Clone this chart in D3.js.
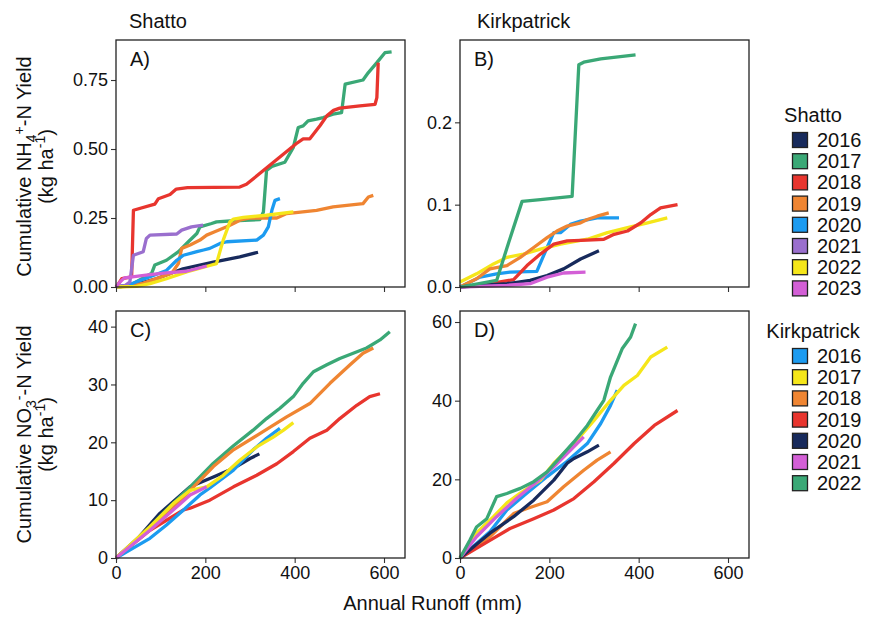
<!DOCTYPE html>
<html>
<head>
<meta charset="utf-8">
<script src="https://d3js.org/d3.v7.min.js"></script>
<style>
  body { margin: 0; background: #fff; }
  svg text { font-family: "Liberation Sans", Arial, Helvetica, sans-serif; fill: #111; }
</style>
</head>
<body>
<div id="chart"></div>
<script>
// Year colours
const shattoYears = [2016, 2017, 2018, 2019, 2020, 2021, 2022, 2023];
const shattoColors = ['#172a5c', '#3aa876', '#e8352e', '#ef8532', '#1c9bf0', '#9a6fce', '#f5e61a', '#d35fd6'];
const kirkYears = [2016, 2017, 2018, 2019, 2020, 2021, 2022];
const kirkColors = ['#1c9bf0', '#f5e61a', '#ef8532', '#e8352e', '#172a5c', '#d35fd6', '#3aa876'];

// Axis ticks
const runoffTicks = [0, 200, 400, 600];
const nh4ShattoTicks = [0, 0.25, 0.5, 0.75];
const nh4KirkTicks = [0, 0.1, 0.2];
const no3ShattoTicks = [0, 10, 20, 30, 40];
const no3KirkTicks = [0, 20, 40, 60];

// Cumulative curves, [runoff mm, yield kg/ha]
const shattoNH4 = {
  2016: [[0,0],[40,0.008],[90,0.03],[150,0.066],[218,0.09],[277,0.109],[318,0.126]],
  2017: [[0,0],[30,0.005],[80,0.05],[87,0.08],[113,0.097],[140,0.128],[162,0.164],[181,0.194],[188,0.218],[214,0.23],[225,0.236],[263,0.24],[322,0.244],[330,0.272],[337,0.422],[349,0.437],[378,0.452],[397,0.506],[408,0.578],[419,0.584],[430,0.602],[449,0.608],[464,0.614],[486,0.626],[505,0.632],[513,0.735],[553,0.75],[565,0.777],[584,0.813],[602,0.849],[617,0.852]],
  2018: [[0,0],[5,0.01],[13,0.03],[35,0.037],[39,0.278],[87,0.30],[95,0.32],[121,0.335],[135,0.355],[160,0.36],[277,0.362],[292,0.372],[404,0.52],[419,0.537],[434,0.537],[457,0.585],[472,0.62],[487,0.64],[501,0.648],[546,0.656],[580,0.662],[584,0.686],[587,0.813]],
  2019: [[0,0],[30,0.003],[61,0.014],[125,0.05],[140,0.086],[147,0.14],[166,0.152],[188,0.17],[203,0.188],[221,0.2],[248,0.218],[263,0.23],[277,0.242],[300,0.25],[360,0.25],[382,0.266],[449,0.278],[486,0.29],[553,0.302],[565,0.326],[576,0.332]],
  2020: [[0,0],[20,0.003],[76,0.037],[113,0.06],[136,0.097],[151,0.115],[181,0.128],[196,0.134],[210,0.14],[233,0.158],[248,0.164],[315,0.17],[330,0.188],[341,0.218],[349,0.278],[356,0.314],[367,0.32]],
  2021: [[0,0],[20,0.005],[31,0.018],[39,0.115],[61,0.128],[68,0.176],[76,0.188],[136,0.192],[147,0.206],[169,0.218],[195,0.224]],
  2022: [[0,0],[46,0.002],[76,0.012],[113,0.03],[158,0.055],[210,0.078],[225,0.085],[240,0.17],[255,0.236],[263,0.246],[285,0.252],[337,0.26],[397,0.272]],
  2023: [[0,0],[10,0.02],[19,0.033],[76,0.045],[113,0.051],[158,0.057],[203,0.076]]
};

const kirkNH4 = {
  2016: [[0,0],[45,0.012],[82,0.016],[112,0.018],[172,0.019],[195,0.048],[210,0.066],[225,0.066],[247,0.076],[270,0.08],[307,0.084],[356,0.084]],
  2017: [[0,0.006],[37,0.016],[75,0.028],[105,0.036],[142,0.04],[180,0.046],[225,0.052],[285,0.058],[330,0.066],[375,0.072],[420,0.078],[464,0.084]],
  2018: [[0,0],[37,0.01],[67,0.022],[105,0.026],[135,0.036],[165,0.048],[195,0.06],[217,0.068],[240,0.074],[270,0.078],[285,0.082],[307,0.086],[333,0.09]],
  2019: [[0,0],[67,0.004],[120,0.009],[150,0.026],[180,0.04],[210,0.052],[240,0.056],[285,0.057],[322,0.058],[345,0.064],[375,0.068],[405,0.078],[427,0.088],[449,0.096],[487,0.1]],
  2020: [[0,0],[105,0.004],[157,0.008],[195,0.014],[232,0.022],[270,0.034],[311,0.044]],
  2021: [[0,0],[105,0.002],[157,0.004],[195,0.012],[232,0.017],[281,0.018]],
  2022: [[0,0],[82,0.008],[109,0.054],[139,0.104],[180,0.106],[251,0.11],[266,0.27],[277,0.273],[315,0.277],[393,0.282]]
};

const shattoNO3 = {
  2016: [[0,0],[50,3.5],[98,7.7],[166,12.3],[218,14],[263,15.5],[300,17.2],[321,18]],
  2017: [[0,0],[54,3.6],[113,8.3],[166,12.3],[218,16.4],[263,19.4],[307,22.1],[337,24.1],[367,25.9],[397,27.9],[419,30.2],[442,32.2],[472,33.4],[501,34.5],[531,35.4],[561,36.3],[591,37.7],[613,39.1]],
  2018: [[0,0],[76,4.8],[151,8.3],[166,8.6],[210,10],[263,12.3],[315,14.3],[360,16.3],[397,18.4],[434,20.7],[472,22.1],[501,24.1],[539,26.4],[568,27.9],[591,28.4]],
  2019: [[0,0],[60,4],[120,8],[166,11.7],[218,15.8],[263,18.7],[322,21.5],[382,24.4],[434,26.7],[479,30.2],[524,33.4],[553,35.4],[576,36.3]],
  2020: [[0,0],[76,3.4],[113,5.7],[151,8.3],[188,10.9],[210,12.1],[263,15.2],[307,18.7],[337,20.7],[367,22.4]],
  2022: [[0,0],[76,5.4],[128,9.4],[166,11.7],[203,12.3],[240,14.3],[277,16.9],[315,19.2],[352,20.9],[375,22.1],[397,23.4]],
  2023: [[0,0],[76,4.8],[128,8.3],[166,10.9],[203,12.3]]
};

const kirkNO3 = {
  2016: [[0,0],[67,6.7],[105,12.2],[150,16.5],[195,20.7],[240,24.6],[285,29.1],[315,34.2],[337,38.8],[352,42.7]],
  2017: [[0,0],[37,6.4],[75,10.5],[105,14],[135,16.5],[180,19.8],[210,24.1],[255,29.1],[300,35],[337,40.1],[367,43.9],[397,46.4],[427,51.1],[464,53.6]],
  2018: [[0,0],[67,5.4],[120,11.3],[150,12.6],[195,14.3],[232,18.1],[277,22.3],[307,24.9],[337,27]],
  2019: [[0,0],[67,4.5],[112,7.5],[165,10],[210,12.2],[255,15.1],[300,19.4],[345,24.1],[390,29.1],[435,33.7],[487,37.5]],
  2020: [[0,0],[67,6.3],[120,10.5],[165,14.7],[210,19.8],[240,24.1],[255,25.3],[285,27],[311,28.7]],
  2021: [[0,0],[37,5.4],[82,10.5],[127,15.2],[172,19.4],[210,23.2],[247,27.4],[277,30.8]],
  2022: [[0,0],[22,4.5],[37,7.9],[60,10],[82,15.6],[105,16.4],[135,17.7],[165,19.4],[195,21.9],[225,25.7],[255,29.5],[285,33.7],[307,37.5],[322,40.1],[337,46],[363,53.2],[382,56.2],[393,59.6]]
};

const width = 877;
const height = 617;
const runoffMax = 647;

const svg = d3.select('#chart').append('svg')
  .attr('width', width)
  .attr('height', height);

// Panel frames
const cols = [[116, 405], [460, 749]];
const rows = [[40, 287], [311, 558]];

const panels = [
  { tag: 'A)', col: 0, row: 0, data: shattoNH4, years: shattoYears, colors: shattoColors, yMax: 0.895, ticks: nh4ShattoTicks, fmt: d3.format('.2f'), xLabels: false },
  { tag: 'B)', col: 1, row: 0, data: kirkNH4, years: kirkYears, colors: kirkColors, yMax: 0.30, ticks: nh4KirkTicks, fmt: d3.format('.1f'), xLabels: false },
  { tag: 'C)', col: 0, row: 1, data: shattoNO3, years: shattoYears, colors: shattoColors, yMax: 42.7, ticks: no3ShattoTicks, fmt: d3.format('d'), xLabels: true },
  { tag: 'D)', col: 1, row: 1, data: kirkNO3, years: kirkYears, colors: kirkColors, yMax: 62.8, ticks: no3KirkTicks, fmt: d3.format('d'), xLabels: true }
];

function drawPanel(p) {
  const [x0, x1] = cols[p.col];
  const [y0, y1] = rows[p.row];
  const x = d3.scaleLinear().domain([0, runoffMax]).range([x0, x1]);
  const y = d3.scaleLinear().domain([0, p.yMax]).range([y1, y0]);
  const g = svg.append('g');

  // Lines, drawn in year order so later years sit on top
  const line = d3.line().x(d => x(d[0])).y(d => y(d[1]));
  p.years.forEach((yr, i) => {
    if (!p.data[yr]) return;
    g.append('path')
      .datum(p.data[yr])
      .attr('d', line)
      .attr('fill', 'none')
      .attr('stroke', p.colors[i])
      .attr('stroke-width', 3.3)
      .attr('stroke-linejoin', 'round')
      .attr('stroke-linecap', 'butt');
  });

  // Axes
  const xAxis = d3.axisBottom(x).tickValues(runoffTicks).tickSize(5).tickPadding(3)
    .tickFormat(p.xLabels ? d3.format('d') : () => '');
  const gx = g.append('g').attr('transform', `translate(0,${y1})`).call(xAxis);
  const yAxis = d3.axisLeft(y).tickValues(p.ticks).tickSize(5).tickPadding(3).tickFormat(p.fmt);
  const gy = g.append('g').attr('transform', `translate(${x0},0)`).call(yAxis);
  [gx, gy].forEach(a => {
    a.select('.domain').remove();
    a.selectAll('line').attr('stroke', '#333').attr('stroke-width', 1.1);
    a.selectAll('text').attr('font-size', 18).attr('fill', '#111')
      .style('font-family', '"Liberation Sans", Arial, sans-serif');
  });

  // Border
  g.append('rect')
    .attr('x', x0).attr('y', y0)
    .attr('width', x1 - x0).attr('height', y1 - y0)
    .attr('fill', 'none').attr('stroke', '#222').attr('stroke-width', 1.3);

  g.append('text')
    .attr('x', x0 + 14).attr('y', y0 + 26)
    .attr('font-size', 20)
    .text(p.tag);
}

panels.forEach(drawPanel);

// Column titles
svg.append('text').attr('x', 129).attr('y', 28).attr('font-size', 20).text('Shatto');
svg.append('text').attr('x', 477).attr('y', 28).attr('font-size', 20).text('Kirkpatrick');

// X axis title
svg.append('text')
  .attr('x', (cols[0][0] + cols[1][1]) / 2).attr('y', 610)
  .attr('text-anchor', 'middle').attr('font-size', 20)
  .text('Annual Runoff (mm)');

// Y axis titles with sub/superscripts
function yTitle(cy, ion, sub, sup) {
  const g = svg.append('g').attr('transform', `translate(31,${cy}) rotate(-90)`);
  const t = g.append('text').attr('text-anchor', 'middle').attr('font-size', 20);
  t.append('tspan').text('Cumulative ' + ion);
  t.append('tspan').attr('font-size', 14).attr('dy', 5).text(sub);
  t.append('tspan').attr('font-size', 14).attr('dy', -12).text(sup);
  t.append('tspan').attr('dy', 7).text('-N Yield');
  const t2 = g.append('text').attr('text-anchor', 'middle').attr('y', 22).attr('font-size', 20);
  t2.append('tspan').text('(kg ha');
  t2.append('tspan').attr('font-size', 14).attr('dy', -8).text('-1');
  t2.append('tspan').attr('dy', 8).text(')');
}
yTitle((rows[0][0] + rows[0][1]) / 2 + 3, 'NH', '4', '+');
yTitle((rows[1][0] + rows[1][1]) / 2, 'NO', '3', '-');

// Legends
function legend(title, years, colors, top) {
  const cx = 813;
  const step = 21.2;
  svg.append('text').attr('x', cx).attr('y', top).attr('text-anchor', 'middle')
    .attr('font-size', 20).text(title);
  years.forEach((yr, i) => {
    const cy = top + 18 + i * step;
    svg.append('rect')
      .attr('x', 792.5).attr('y', cy - 7.5)
      .attr('width', 15).attr('height', 15)
      .attr('fill', colors[i]).attr('stroke', '#222').attr('stroke-width', 1.3);
    svg.append('text').attr('x', 817).attr('y', cy + 7)
      .attr('font-size', 20).text(yr);
  });
}
legend('Shatto', shattoYears, shattoColors, 122);
legend('Kirkpatrick', kirkYears, kirkColors, 338);
</script>
</body>
</html>
